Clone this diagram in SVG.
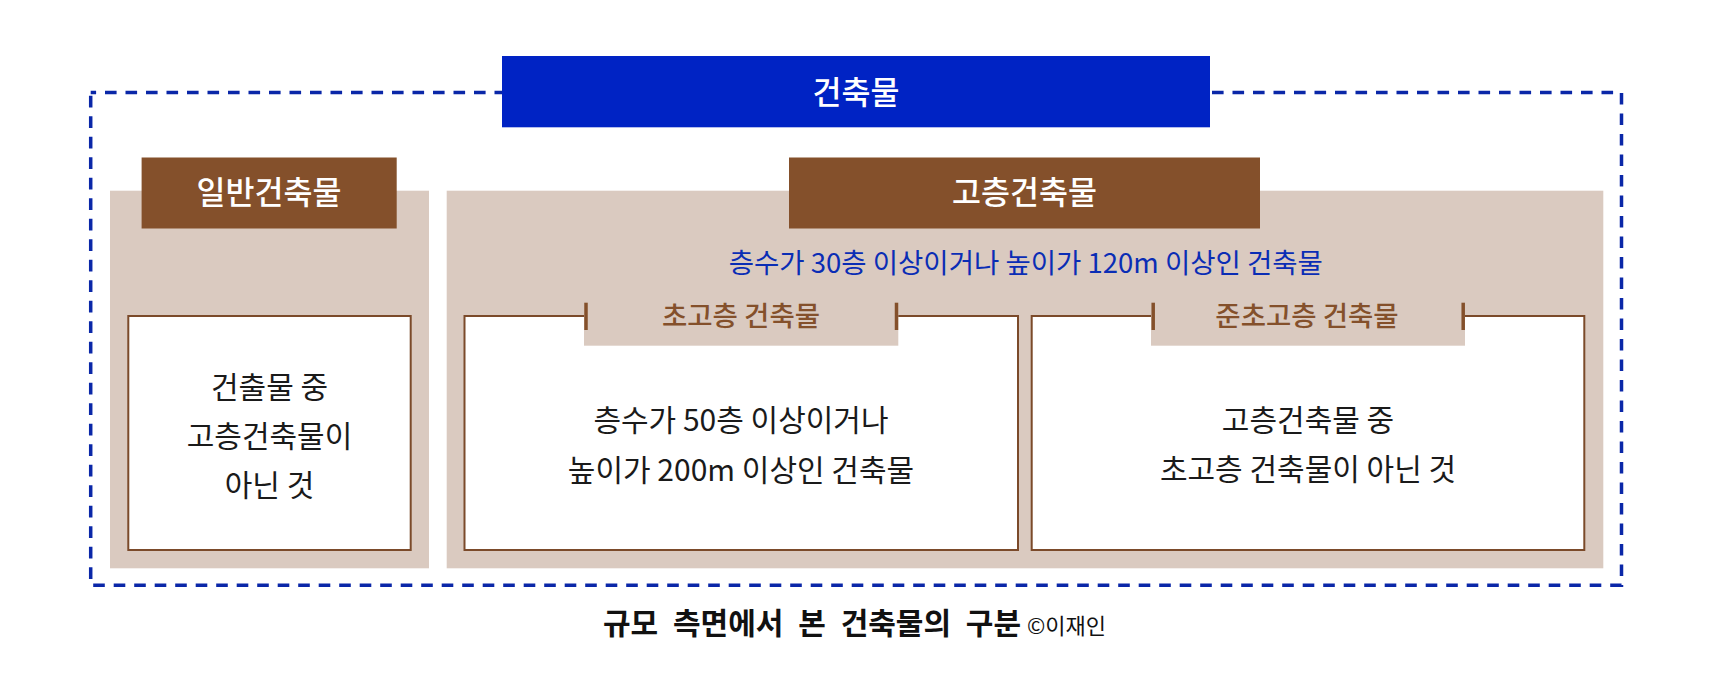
<svg xmlns="http://www.w3.org/2000/svg" width="1734" height="700" viewBox="0 0 1734 700">
<style>
  text { font-family: "Noto Sans CJK KR", "Noto Sans", sans-serif; }
  .panel { fill: #dacac0; }
  .hdr { fill: #84502b; }
  .hdrtxt { fill: #ffffff; font-size: 31.5px; text-anchor: middle; font-weight: 500; }
  .box { fill: #ffffff; stroke: #7b4a2a; stroke-width: 2; }
  .tab { fill: #dacac0; }
  .tick { stroke: #84502b; stroke-width: 3.5; }
  .tabtxt { fill: #84502b; font-size: 27.5px; text-anchor: middle; font-weight: 500; }
  .body { fill: #1a1a1a; font-size: 30px; text-anchor: middle; }
</style>
<rect width="1734" height="700" fill="#ffffff"/>

<g id="frame">
  <rect x="90.7" y="92.5" width="1530.8" height="492.8" fill="none" stroke="#0a27a8" stroke-width="3.5" stroke-dasharray="11.6 8.9" stroke-dashoffset="6.2"/>
</g>

<g id="root">
  <rect x="502" y="56" width="708" height="71.3" fill="#0023c4"/>
  <text class="hdrtxt" x="856" y="104" font-size="32">건축물</text>
</g>

<g id="general">
  <rect class="panel" x="110" y="190.7" width="319" height="377.6"/>
  <rect class="hdr" x="141.6" y="157.5" width="255.1" height="71"/>
  <text class="hdrtxt" x="269" y="204">일반건축물</text>
  <rect class="box" x="128.3" y="316" width="282.4" height="234"/>
  <text class="body" x="269.5" y="398">건출물 중</text>
  <text class="body" x="269.5" y="447">고층건축물이</text>
  <text class="body" x="269.5" y="496">아닌 것</text>
</g>

<g id="highrise">
  <rect class="panel" x="446.7" y="190.7" width="1156.6" height="377.6"/>
  <rect class="hdr" x="789" y="157.5" width="471" height="71"/>
  <text class="hdrtxt" x="1024.5" y="204">고층건축물</text>
  <text x="1025.8" y="273" font-size="27.5" fill="#0a2db5" text-anchor="middle">층수가 30층 이상이거나 높이가 120m 이상인 건축물</text>
</g>

<g id="super-highrise">
  <rect class="box" x="464.5" y="316" width="553.5" height="234"/>
  <rect class="tab" x="584" y="300" width="314.3" height="45.7"/>
  <line class="tick" x1="586" y1="302.7" x2="586" y2="330"/>
  <line class="tick" x1="896.5" y1="302.7" x2="896.5" y2="330"/>
  <text class="tabtxt" x="741" y="326">초고층 건축물</text>
  <text class="body" x="741" y="431">층수가 50층 이상이거나</text>
  <text class="body" x="741" y="481">높이가 200m 이상인 건축물</text>
</g>

<g id="semi-super-highrise">
  <rect class="box" x="1031.7" y="316" width="552.6" height="234"/>
  <rect class="tab" x="1151" y="300" width="314" height="45.7"/>
  <line class="tick" x1="1153.2" y1="302.7" x2="1153.2" y2="330"/>
  <line class="tick" x1="1463.2" y1="302.7" x2="1463.2" y2="330"/>
  <text class="tabtxt" x="1307" y="326">준초고층 건축물</text>
  <text class="body" x="1308" y="431">고층건축물 중</text>
  <text class="body" x="1308" y="480">초고층 건축물이 아닌 것</text>
</g>

<g id="connectors"></g>

<g id="caption">
  <text x="603" y="634" font-size="30" font-weight="700" fill="#111111" word-spacing="8">규모 측면에서 본 건축물의 구분<tspan font-size="22" font-weight="400" dx="6" word-spacing="0">©이재인</tspan></text>
</g>
</svg>
